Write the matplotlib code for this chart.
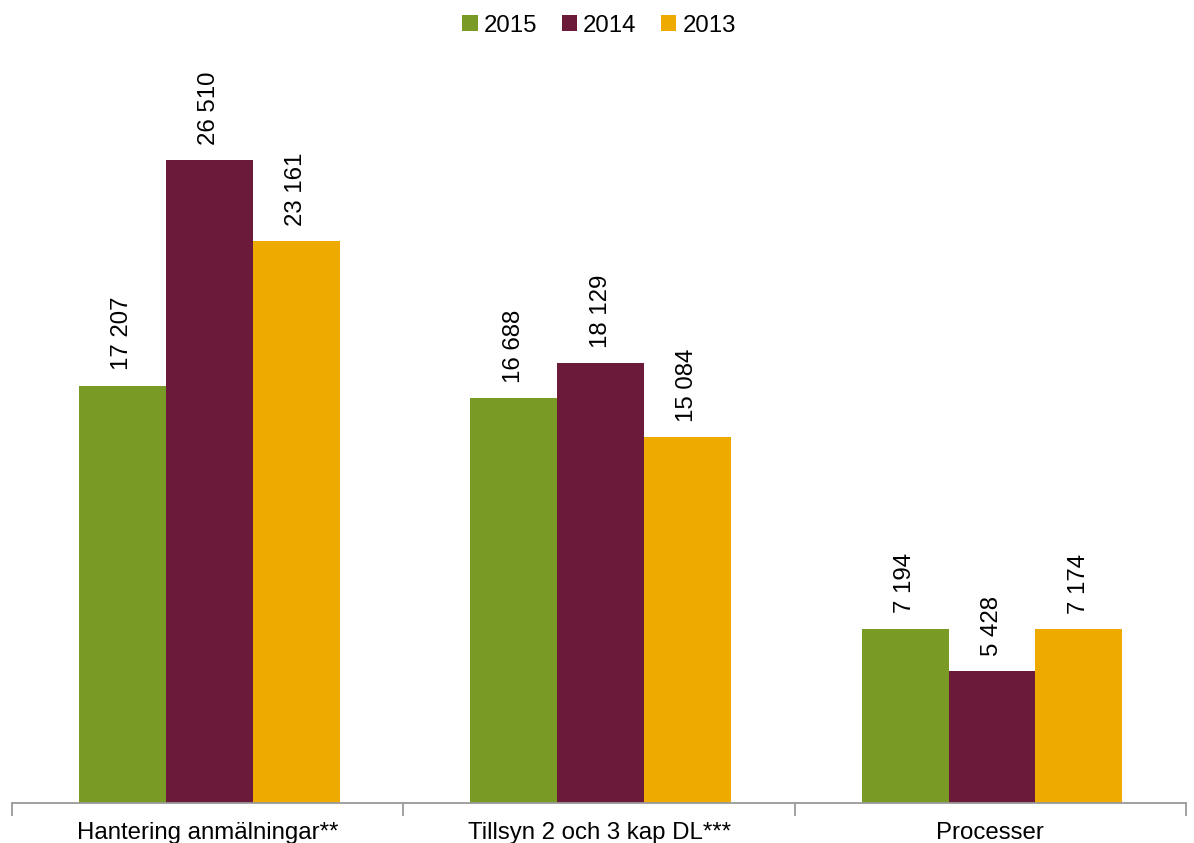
import numpy as np
import matplotlib
matplotlib.use("Agg")
import matplotlib.pyplot as plt

plt.rcParams['font.family'] = ['Liberation Sans', 'DejaVu Sans']

categories = ["Hantering anmälningar**", "Tillsyn 2 och 3 kap DL***", "Processer"]
years = ["2015", "2014", "2013"]
values_2015 = [17207, 16688, 7194]
values_2014 = [26510, 18129, 5428]
values_2013 = [23161, 15084, 7174]
colors = ["#7A9A26", "#6B1A3A", "#EFAA00"]

def fmt(v):
    return f"{v:,}".replace(",", " ")

fs = 17.3

fig = plt.figure(figsize=(11.94, 8.43), dpi=100)
ax = fig.add_axes([0.01, 0.0475, 0.9834, 0.863])

x = np.arange(len(categories))
w = 0.222
series = [values_2015, values_2014, values_2013]
for i, (vals, lab, c) in enumerate(zip(series, years, colors)):
    pos = x + (i - 1) * w + 0.004
    bars = ax.bar(pos, vals, width=w, color=c, label=lab)
    for b, v in zip(bars, vals):
        ax.annotate(fmt(v), (b.get_x() + b.get_width() / 2, v),
                    xytext=(0, 11), textcoords="offset points",
                    rotation=90, ha="center", va="bottom", fontsize=fs)

ax.set_xlim(-0.5, 2.5)
ax.set_ylim(0, 30000)
ax.set_yticks([])
for s in ["top", "right", "left"]:
    ax.spines[s].set_visible(False)
ax.spines["bottom"].set_color("#999999")
ax.spines["bottom"].set_linewidth(1.3)

ax.set_xticks(x)
ax.set_xticklabels(categories, fontsize=fs)
ax.tick_params(axis="x", which="major", length=0, pad=14)
ax.set_xticks([-0.5, 0.5, 1.5, 2.5], minor=True)
ax.tick_params(axis="x", which="minor", length=9, width=1.3, color="#999999", direction="out")

ax.legend(loc="upper center", bbox_to_anchor=(0.5, 1.113), ncol=3, frameon=False,
          fontsize=fs, handlelength=0.65, handleheight=0.65, handletextpad=0.25,
          columnspacing=1.0)

fig.savefig("out.png", dpi=100)
